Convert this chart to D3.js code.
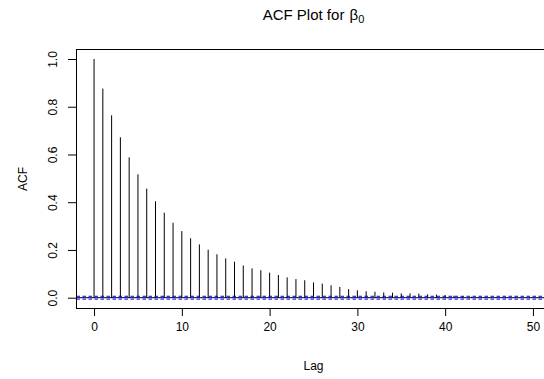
<!DOCTYPE html>
<html>
<head>
<meta charset="utf-8">
<script src="https://cdn.jsdelivr.net/npm/d3@7"></script>
<style>
html,body{margin:0;padding:0;background:#fff;}
svg{display:block;}
text{font-family:"Liberation Sans",Arial,Helvetica,sans-serif;fill:#000;}
</style>
</head>
<body>
<svg id="chart" width="544" height="379"></svg>
<script>
// Data
const lags = d3.range(0, 51);
const acfValues = [1.000,0.876,0.764,0.672,0.588,0.517,0.457,0.404,0.356,0.314,
  0.279,0.249,0.223,0.201,0.182,0.165,0.151,0.135,0.123,0.115,
  0.105,0.095,0.085,0.078,0.073,0.064,0.059,0.052,0.045,0.036,
  0.031,0.027,0.025,0.022,0.021,0.018,0.018,0.017,0.014,0.013,
  0.011,0.008,0.006,0.004,0.003,0.002,0.002,0.001,0.001,0.000,-0.001];
const confLimit = 0.006;
const xTicks = [0,10,20,30,40,50];
const yTicks = [0.0,0.2,0.4,0.6,0.8,1.0];
const yTickLabels = ["0.0","0.2","0.4","0.6","0.8","1.0"];

(function () {
const svg = d3.select("#chart");
const pLeft = 76.5, pRight = 550.5, pTop = 49.5, pBottom = 308.5;
const x = d3.scaleLinear().domain([-2, 52]).range([pLeft, pRight]);
const y = d3.scaleLinear().domain([0, 1]).range([297.7, 59]);

// Title
const title = svg.append("text").attr("x", (pLeft+pRight)/2).attr("y", 20)
  .attr("text-anchor", "middle").style("font-size", "15px");
title.append("tspan").text("ACF Plot for ");
title.append("tspan").attr("dx", 1).text("\u03B2");
title.append("tspan").attr("dy", 3).style("font-size", "11px").text("0");

// Bars
svg.append("g").selectAll("line").data(lags).join("line")
  .attr("x1", d => x(d)).attr("x2", d => x(d))
  .attr("y1", y(0)).attr("y2", (d, i) => y(acfValues[i]))
  .attr("stroke", "#000").attr("stroke-width", 1);

// Zero line
svg.append("line").attr("x1", pLeft).attr("x2", pRight)
  .attr("y1", y(0)).attr("y2", y(0)).attr("stroke", "#000").attr("stroke-width", 1);

// Confidence lines
[confLimit, -confLimit].forEach(c => {
  svg.append("line").attr("x1", pLeft).attr("x2", pRight)
    .attr("y1", y(c)).attr("y2", y(c))
    .attr("stroke", "#0000FF").attr("stroke-width", 1)
    .attr("stroke-dasharray", "3.5,2.5");
});

// Box
svg.append("rect").attr("x", pLeft).attr("y", pTop)
  .attr("width", pRight - pLeft).attr("height", pBottom - pTop)
  .attr("fill", "none").attr("stroke", "#000").attr("stroke-width", 1);

// X axis
const xAxis = d3.axisBottom(x).tickValues(xTicks).tickSize(7.5).tickPadding(6).tickSizeOuter(0);
const gx = svg.append("g").attr("transform", `translate(0,${pBottom})`).call(xAxis);
gx.select(".domain").attr("d", `M${x(0)},0H${x(50)}`).attr("stroke", "#000");
gx.selectAll("text").style("font-size", "12px").style("font-family", '"Liberation Sans",Arial,sans-serif').attr("fill", "#000");
gx.selectAll(".tick line").attr("stroke", "#000");

// Y axis
const yAxis = d3.axisLeft(y).tickValues(yTicks).tickFormat((d, i) => yTickLabels[i]).tickSize(8.5).tickSizeOuter(0);
const gy = svg.append("g").attr("transform", `translate(${pLeft},0)`).call(yAxis);
gy.select(".domain").attr("d", `M0,${y(0)}V${y(1)}`).attr("stroke", "#000");
gy.selectAll(".tick line").attr("stroke", "#000");
gy.selectAll("text")
  .attr("x", null).attr("dy", null)
  .attr("transform", "translate(-20,0) rotate(-90)")
  .attr("text-anchor", "middle")
  .style("font-size", "12px").style("font-family", '"Liberation Sans",Arial,sans-serif').attr("fill", "#000");

// Axis labels
svg.append("text").attr("x", (pLeft+pRight)/2).attr("y", 370)
  .attr("text-anchor", "middle").style("font-size", "12px").text("Lag");
svg.append("text").attr("transform", `translate(27,${(pTop+pBottom)/2}) rotate(-90)`)
  .attr("text-anchor", "middle").style("font-size", "12px").text("ACF");
})();
</script>
</body>
</html>
